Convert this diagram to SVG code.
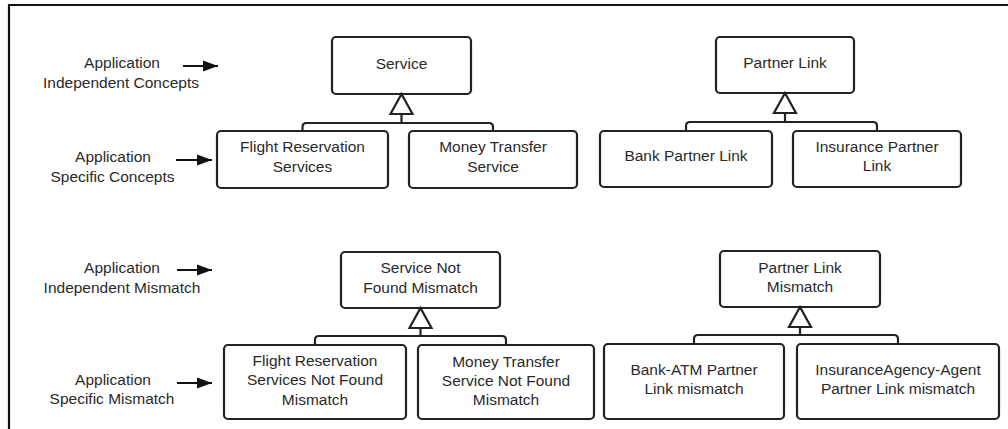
<svg xmlns="http://www.w3.org/2000/svg" width="1008" height="429" viewBox="0 0 1008 429">
  <defs>
    <style>
      .box { fill: #ffffff; stroke: #222222; stroke-width: 2.2; }
      .lbl { font-family: "Liberation Sans", Arial, sans-serif; font-size: 15.5px; fill: #2a2a2a; text-anchor: middle; }
      .wire { fill: none; stroke: #222222; stroke-width: 2.2; stroke-linejoin: round; }
      .gen { fill: #ffffff; stroke: #222222; stroke-width: 2.2; stroke-linejoin: miter; }
      .ptr { fill: none; stroke: #111111; stroke-width: 2.2; }
      .frame { fill: none; stroke: #111111; stroke-width: 2.2; }
    </style>
    <marker id="arrowhead" markerUnits="userSpaceOnUse" markerWidth="16" markerHeight="12" refX="15" refY="6" orient="auto">
      <path d="M0,0.5 L15,6 L0,11.5 Z" fill="#111111"/>
    </marker>
  </defs>

  <rect width="1008" height="429" fill="#ffffff"/>

  <!-- outer frame (top and left edges) -->
  <path class="frame" d="M9,429 L9,5 L1008,5"/>

  <!-- level captions with pointers -->
  <g id="caption-independent-concepts">
    <text class="lbl" x="122" y="68">Application</text>
    <text class="lbl" x="121" y="88">Independent Concepts</text>
  </g>
  <g id="caption-specific-concepts">
    <text class="lbl" x="113" y="162">Application</text>
    <text class="lbl" x="112.5" y="182">Specific Concepts</text>
  </g>
  <g id="caption-independent-mismatch">
    <text class="lbl" x="122" y="273">Application</text>
    <text class="lbl" x="122" y="293">Independent Mismatch</text>
  </g>
  <g id="caption-specific-mismatch">
    <text class="lbl" x="113" y="385">Application</text>
    <text class="lbl" x="112" y="404">Specific Mismatch</text>
  </g>

  <!-- concept nodes -->
  <g id="service">
    <rect class="box" x="332" y="37" width="139" height="57" rx="4"/>
    <text class="lbl" x="401.5" y="68.5">Service</text>
  </g>
  <g id="partner-link">
    <rect class="box" x="716" y="37" width="138" height="56" rx="4"/>
    <text class="lbl" x="785" y="68">Partner Link</text>
  </g>
  <g id="flight-reservation-services">
    <rect class="box" x="217" y="131" width="171" height="57" rx="4"/>
    <text class="lbl" x="302.5" y="152">Flight Reservation</text>
    <text class="lbl" x="302.5" y="172">Services</text>
  </g>
  <g id="money-transfer-service">
    <rect class="box" x="409" y="131" width="168" height="57" rx="4"/>
    <text class="lbl" x="493" y="152">Money Transfer</text>
    <text class="lbl" x="493" y="172">Service</text>
  </g>
  <g id="bank-partner-link">
    <rect class="box" x="600" y="131" width="172" height="56" rx="4"/>
    <text class="lbl" x="686" y="161">Bank Partner Link</text>
  </g>
  <g id="insurance-partner-link">
    <rect class="box" x="793" y="131" width="168" height="56" rx="4"/>
    <text class="lbl" x="877" y="152">Insurance Partner</text>
    <text class="lbl" x="877" y="171">Link</text>
  </g>

  <!-- mismatch nodes -->
  <g id="service-not-found-mismatch">
    <rect class="box" x="341" y="252" width="159" height="56" rx="4"/>
    <text class="lbl" x="420.5" y="273">Service Not</text>
    <text class="lbl" x="420.5" y="293">Found Mismatch</text>
  </g>
  <g id="partner-link-mismatch">
    <rect class="box" x="720" y="251" width="160" height="56" rx="4"/>
    <text class="lbl" x="800" y="273">Partner Link</text>
    <text class="lbl" x="800" y="292">Mismatch</text>
  </g>
  <g id="flight-reservation-services-not-found-mismatch">
    <rect class="box" x="224" y="345" width="182" height="74" rx="4"/>
    <text class="lbl" x="315" y="366">Flight Reservation</text>
    <text class="lbl" x="315" y="385">Services Not Found</text>
    <text class="lbl" x="315" y="405">Mismatch</text>
  </g>
  <g id="money-transfer-service-not-found-mismatch">
    <rect class="box" x="418" y="345" width="176" height="74" rx="4"/>
    <text class="lbl" x="506" y="367">Money Transfer</text>
    <text class="lbl" x="506" y="386">Service Not Found</text>
    <text class="lbl" x="506" y="405">Mismatch</text>
  </g>
  <g id="bank-atm-partner-link-mismatch">
    <rect class="box" x="604" y="344" width="180" height="75" rx="4"/>
    <text class="lbl" x="694" y="375">Bank-ATM Partner</text>
    <text class="lbl" x="694" y="394">Link mismatch</text>
  </g>
  <g id="insuranceagency-agent-partner-link-mismatch">
    <rect class="box" x="797" y="344" width="202" height="75" rx="4"/>
    <text class="lbl" x="898" y="375">InsuranceAgency-Agent</text>
    <text class="lbl" x="898" y="394">Partner Link mismatch</text>
  </g>

  <!-- connectors: caption pointers and generalization trees -->
  <g id="connectors">
    <line class="ptr" x1="183" y1="66" x2="218" y2="66" marker-end="url(#arrowhead)"/>
    <line class="ptr" x1="176" y1="160" x2="212" y2="160" marker-end="url(#arrowhead)"/>
    <line class="ptr" x1="177" y1="270" x2="212" y2="270" marker-end="url(#arrowhead)"/>
    <line class="ptr" x1="177" y1="383" x2="212" y2="383" marker-end="url(#arrowhead)"/>

    <!-- Service specializations -->
    <path class="wire" d="M302.5,131 L302.5,127 Q302.5,123 306.5,123 L489,123 Q493,123 493,127 L493,131"/>
    <path class="wire" d="M401.5,114 L401.5,123"/>
    <polygon class="gen" points="401.5,94 390.5,114 412.5,114"/>

    <!-- Partner Link specializations -->
    <path class="wire" d="M686,131 L686,126 Q686,122 690,122 L873,122 Q877,122 877,126 L877,131"/>
    <path class="wire" d="M785,113 L785,122"/>
    <polygon class="gen" points="785,93 774,113 796,113"/>

    <!-- Service Not Found Mismatch specializations -->
    <path class="wire" d="M315,345 L315,340 Q315,336 319,336 L502,336 Q506,336 506,340 L506,345"/>
    <path class="wire" d="M420.5,328 L420.5,336"/>
    <polygon class="gen" points="420.5,308 409.5,328 431.5,328"/>

    <!-- Partner Link Mismatch specializations -->
    <path class="wire" d="M694,344 L694,339 Q694,335 698,335 L894,335 Q898,335 898,339 L898,344"/>
    <path class="wire" d="M800,327 L800,335"/>
    <polygon class="gen" points="800,307 789,327 811,327"/>
  </g>
</svg>
